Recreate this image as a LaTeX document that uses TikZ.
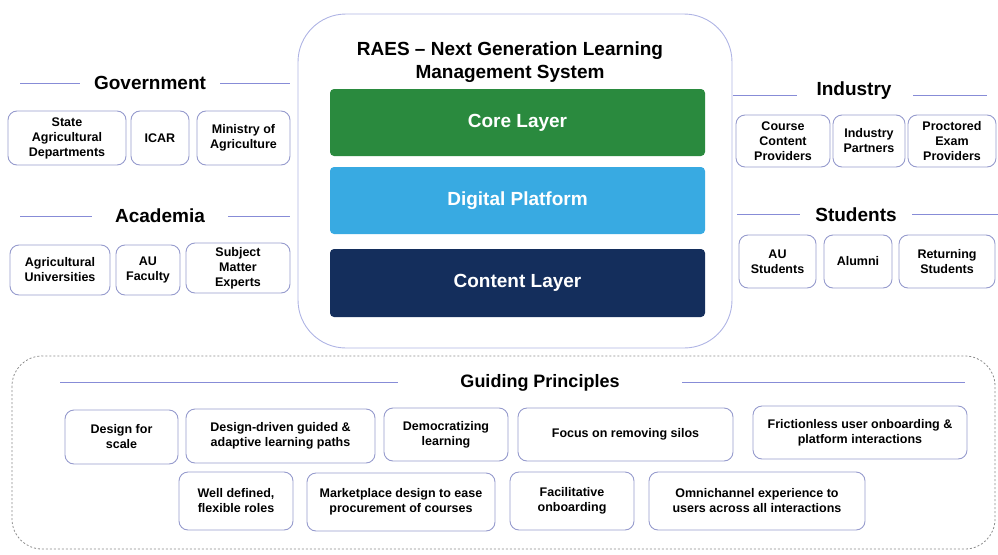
\documentclass[tikz,border=0pt]{standalone}
\usepackage{fontspec}
\setmainfont{Liberation Sans}
\definecolor{boxline}{RGB}{150,155,205}
\definecolor{ruleline}{RGB}{135,140,215}
\definecolor{mainline}{RGB}{175,180,228}
\definecolor{coregreen}{RGB}{42,138,62}
\definecolor{platblue}{RGB}{56,170,226}
\definecolor{contnavy}{RGB}{20,46,92}
\begin{document}
\begin{tikzpicture}[x=1pt,y=-1pt]
\tikzset{
	member/.style={draw=boxline,line width=0.9pt,rounded corners=9pt,align=center,
		font=\bfseries\fontsize{12.5}{15}\selectfont,inner sep=1pt},
	group/.style={font=\bfseries\fontsize{19}{22}\selectfont},
	rule/.style={draw=ruleline,line width=0.9pt},
	layer/.style={minimum width=375pt,minimum height=67pt,text=white,rounded corners=4pt,
		font=\bfseries\fontsize{19}{22}\selectfont}
}
\useasboundingbox (0,0) rectangle (998,554);

% LMS in the middle
\draw[mainline,line width=0.9pt,rounded corners=48pt] (298,14) rectangle (732,348);
\node[align=center,font=\bfseries\fontsize{19}{23}\selectfont] (lms) at (510,62)
		{RAES -- Next Generation Learning\\Management System};
\node[layer,fill=coregreen] (core) at (517.5,122.5) {Core Layer};
\node[layer,fill=platblue] (platform) at (517.5,200.5) {Digital Platform};
\node[layer,fill=contnavy,minimum height=68pt] (content) at (517.5,283) {Content Layer};

% Government
\node[group] (gov) at (150,83) {Government};
\draw[rule] (20,83) -- (80,83);
\draw[rule] (220,83) -- (290,83);
\node[member,minimum width=118pt,minimum height=54pt] (sad) at (67,138) {State\\Agricultural\\Departments};
\node[member,minimum width=58pt,minimum height=54pt] (icar) at (160,138) {ICAR};
\node[member,minimum width=93pt,minimum height=54pt] (moa) at (243.5,138) {Ministry of\\Agriculture};

% Academia
\node[group] (aca) at (160,216) {Academia};
\draw[rule] (20,216) -- (92,216);
\draw[rule] (228,216) -- (290,216);
\node[member,minimum width=100pt,minimum height=50pt] (agu) at (60,270) {Agricultural\\Universities};
\node[member,minimum width=64pt,minimum height=50pt] (auf) at (148,270) {AU\\Faculty};
\node[member,minimum width=104pt,minimum height=50pt] (sme) at (238,268) {Subject\\Matter\\Experts};

% Industry
\node[group] (ind) at (854,91) {Industry};
\draw[rule] (733,95) -- (797,95);
\draw[rule] (913,95) -- (987,95);
\node[member,minimum width=94pt,minimum height=52pt] (ccp) at (783,141) {Course\\Content\\Providers};
\node[member,minimum width=72pt,minimum height=52pt] (inp) at (869,141) {Industry\\Partners};
\node[member,minimum width=88pt,minimum height=52pt] (pep) at (952,141) {Proctored\\Exam\\Providers};

% Students
\node[group] (stu) at (856,215) {Students};
\draw[rule] (737,214) -- (800,214);
\draw[rule] (912,214) -- (998,214);
\node[member,minimum width=77pt,minimum height=53pt] (aus) at (777.5,261.5) {AU\\Students};
\node[member,minimum width=68pt,minimum height=53pt] (alu) at (858,261.5) {Alumni};
\node[member,minimum width=96pt,minimum height=53pt] (rts) at (947,261.5) {Returning\\Students};

% Guiding principles
\draw[black!45,line width=0.8pt,dash pattern=on 2pt off 2pt,rounded corners=30pt]
		(12,356) rectangle (995,549);
\node[group,font=\bfseries\fontsize{18}{21}\selectfont] (gp) at (540,383) {Guiding Principles};
\draw[rule] (60,382) -- (398,382);
\draw[rule] (682,382) -- (965,382);
\node[member,minimum width=113pt,minimum height=54pt] (scale) at (121.5,437) {Design for\\scale};
\node[member,minimum width=189pt,minimum height=54pt] (paths) at (280.5,436) {Design-driven guided \&\\adaptive learning paths};
\node[member,minimum width=124pt,minimum height=53pt] (demo) at (446,434.5) {Democratizing\\learning};
\node[member,minimum width=215pt,minimum height=53pt] (silos) at (625.5,434.5) {Focus on removing silos};
\node[member,minimum width=214pt,minimum height=53pt] (friction) at (860,432.5) {Frictionless user onboarding \&\\platform interactions};
\node[member,minimum width=114pt,minimum height=58pt] (roles) at (236,501) {Well defined,\\flexible roles};
\node[member,minimum width=188pt,minimum height=58pt] (market) at (401,502) {Marketplace design to ease\\procurement of courses};
\node[member,minimum width=124pt,minimum height=58pt] (facil) at (572,501) {Facilitative\\onboarding};
\node[member,minimum width=216pt,minimum height=58pt] (omni) at (757,501) {Omnichannel experience to\\users across all interactions};
\end{tikzpicture}
\end{document}
